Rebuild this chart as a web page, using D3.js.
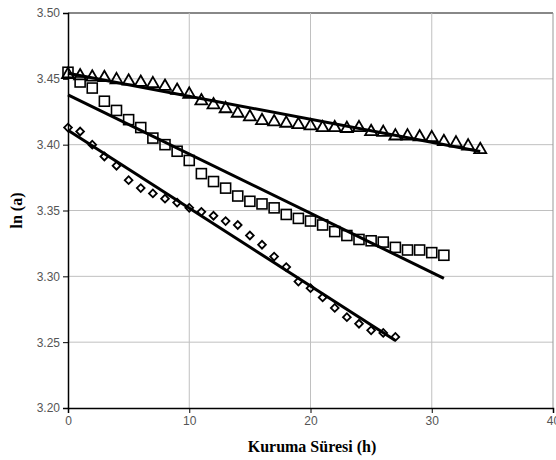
<!DOCTYPE html>
<html><head><meta charset="utf-8">
<script src="https://cdn.jsdelivr.net/npm/d3@7"></script>
<style>html,body{margin:0;padding:0;background:#fff;}</style>
</head><body>
<svg id="c" width="556" height="460"></svg>
<script>
// Data (x = drying time in hours)
const triX = d3.range(0, 35);
const triY = [3.454,3.453,3.452,3.4516,3.450,3.449,3.448,3.447,3.445,3.442,3.439,3.434,3.431,3.428,3.4246,3.4218,3.419,3.418,3.417,3.416,3.415,3.4136,3.4136,3.413,3.4136,3.4106,3.410,3.4073,3.4073,3.4066,3.406,3.403,3.402,3.3997,3.397];
const sqX = d3.range(0, 32);
const sqY = [3.455,3.4476,3.443,3.433,3.426,3.419,3.413,3.405,3.400,3.395,3.388,3.378,3.372,3.367,3.361,3.357,3.355,3.352,3.347,3.344,3.342,3.339,3.334,3.331,3.328,3.327,3.326,3.322,3.320,3.320,3.318,3.316];
const diX = d3.range(0, 28);
const diY = [3.413,3.410,3.400,3.391,3.384,3.373,3.367,3.363,3.359,3.356,3.352,3.349,3.346,3.342,3.339,3.331,3.324,3.315,3.307,3.296,3.291,3.284,3.276,3.269,3.264,3.259,3.257,3.254];
const xTicks = [0,10,20,30,40];
const yTicks = [3.20,3.25,3.30,3.35,3.40,3.45,3.50];
const xTitle = "Kuruma Süresi (h)";
const yTitle = "ln (a)";

const svg = d3.select("#c");
const L = 68, R = 553, T = 13, B = 408;
const x = d3.scaleLinear().domain([0,40]).range([L,R]);
const y = d3.scaleLinear().domain([3.20,3.50]).range([B,T]);

// grid
svg.append("g").selectAll("line").data(yTicks.slice(1)).join("line")
  .attr("x1",L).attr("x2",R).attr("y1",d=>y(d)).attr("y2",d=>y(d))
  .attr("stroke", d=> d===3.50 ? "#888" : "#c0c0c0").attr("stroke-width", d=> d===3.50 ? 2 : 1);
svg.append("g").selectAll("line").data(xTicks.slice(1)).join("line")
  .attr("x1",d=>x(d)).attr("x2",d=>x(d)).attr("y1",T).attr("y2",B)
  .attr("stroke", d=> d===40 ? "#999" : "#c0c0c0").attr("stroke-width", 1);

// axes
const gx = svg.append("g").attr("transform",`translate(0,${B})`)
  .call(d3.axisBottom(x).tickValues(xTicks).tickFormat(d3.format("d")).tickSize(5).tickPadding(3));
const gy = svg.append("g").attr("transform",`translate(${L},0)`)
  .call(d3.axisLeft(y).tickValues(yTicks).tickFormat(d3.format(".2f")).tickSize(5).tickPadding(3));
[gx,gy].forEach(g=>{
  g.attr("font-family","Liberation Sans, Arial, sans-serif").attr("font-size",12);
  g.select(".domain").attr("stroke","#000").attr("stroke-width",1.5);
  g.selectAll(".tick line").attr("stroke","#000");
  g.selectAll("text").attr("fill","#555");
});

// trend lines (least squares from data)
function fit(xs, ys){
  const mx = d3.mean(xs), my = d3.mean(ys);
  let sxy=0, sxx=0;
  xs.forEach((xi,i)=>{ sxy += (xi-mx)*(ys[i]-my); sxx += (xi-mx)*(xi-mx); });
  const b = sxy/sxx, a = my - b*mx;
  return [[d3.min(xs), a+b*d3.min(xs)],[d3.max(xs), a+b*d3.max(xs)]];
}
const line = d3.line().x(d=>x(d[0])).y(d=>y(d[1]));
[[triX,triY],[sqX,sqY],[diX,diY]].forEach(([xs,ys])=>{
  svg.append("path").attr("d", line(fit(xs,ys))).attr("fill","none")
    .attr("stroke","#000").attr("stroke-width",3);
});

// markers
const pts = (xs,ys)=>xs.map((v,i)=>[v,ys[i]]);
const triSym = d3.symbol().type(d3.symbolTriangle).size(62);
svg.append("g").selectAll("path").data(pts(triX,triY)).join("path")
  .attr("d", triSym).attr("transform",d=>`translate(${x(d[0])},${y(d[1])+1})`)
  .attr("fill","none").attr("stroke","#000").attr("stroke-width",1.8);
svg.append("g").selectAll("rect").data(pts(sqX,sqY)).join("rect")
  .attr("x",d=>x(d[0])-5).attr("y",d=>y(d[1])-5).attr("width",10).attr("height",10)
  .attr("fill","none").attr("stroke","#000").attr("stroke-width",1.6);
svg.append("g").selectAll("path").data(pts(diX,diY)).join("path")
  .attr("d", d3.symbol().type(d3.symbolSquare).size(30))
  .attr("transform",d=>`translate(${x(d[0])},${y(d[1])}) rotate(45)`)
  .attr("fill","none").attr("stroke","#000").attr("stroke-width",1.8);

// titles
const serif = "'Liberation Serif', 'Times New Roman', Times, serif";
svg.append("text").attr("x",312).attr("y",452).attr("text-anchor","middle")
  .attr("font-family",serif).attr("font-weight","bold").attr("font-size",16)
  .attr("fill","#000").text(xTitle);
svg.append("text").attr("transform",`translate(22,${(T+B)/2}) rotate(-90)`).attr("text-anchor","middle")
  .attr("font-family",serif).attr("font-weight","bold").attr("font-size",16)
  .attr("fill","#000").text(yTitle);
</script>
</body></html>
